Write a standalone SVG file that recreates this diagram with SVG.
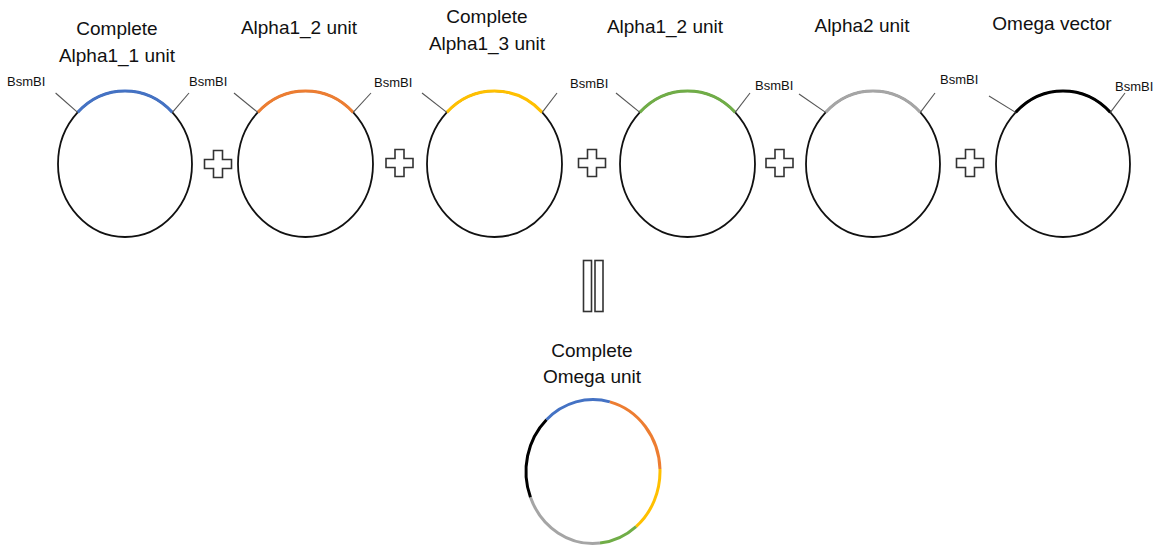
<svg xmlns="http://www.w3.org/2000/svg" width="1156" height="547" viewBox="0 0 1156 547">
  <style>
    .title { font-family: "Liberation Sans", Arial, sans-serif; font-size: 19px; fill: #111; text-anchor: middle; }
    .site { font-family: "Liberation Sans", Arial, sans-serif; font-size: 13px; fill: #111; }
    .ring { fill: none; stroke: #111; stroke-width: 1.8; }
    .tick { stroke: #555; stroke-width: 1.1; fill: none; }
    .seg { fill: none; stroke-width: 3; stroke-linecap: butt; }
    .blue { stroke: #4472C4; }
    .orange { stroke: #ED7D31; }
    .yellow { stroke: #FFC000; }
    .green { stroke: #70AD47; }
    .grey { stroke: #A5A5A5; }
    .black { stroke: #000; }
    .op { fill: #fff; stroke: #333; stroke-width: 1.6; }
  </style>
  <defs>
    <!-- outlined plus sign centred on the origin -->
    <path id="plus" d="M-4.5,-13.5 H4.5 V-4.5 H13.5 V4.5 H4.5 V13.5 H-4.5 V4.5 H-13.5 V-4.5 H-4.5 Z"/>
  </defs>

  <rect width="1156" height="547" fill="#fff"/>

  <!-- Complete Alpha1_1 unit -->
  <g id="alpha1-1">
    <text class="title" x="117" y="35">Complete</text>
    <text class="title" x="117" y="62">Alpha1_1 unit</text>
    <ellipse class="ring" cx="125" cy="164" rx="67" ry="73"/>
    <path class="seg blue" d="M77.62,112.38 A67,73 0 0 1 172.38,112.38"/>
    <line class="tick" x1="55.6" y1="93" x2="77.6" y2="112.4"/>
    <line class="tick" x1="172.4" y1="112.4" x2="189" y2="93"/>
    <text class="site" x="7" y="86">BsmBI</text>
    <text class="site" x="189" y="86">BsmBI</text>
  </g>

  <!-- Alpha1_2 unit -->
  <g id="alpha1-2a">
    <text class="title" x="299" y="34">Alpha1_2 unit</text>
    <ellipse class="ring" cx="305.5" cy="164" rx="67.5" ry="73"/>
    <path class="seg orange" d="M257.77,112.38 A67.5,73 0 0 1 353.23,112.38"/>
    <line class="tick" x1="234" y1="93" x2="257.8" y2="112.4"/>
    <line class="tick" x1="353.2" y1="112.4" x2="371" y2="93"/>
    <text class="site" x="374" y="87">BsmBI</text>
  </g>

  <!-- Complete Alpha1_3 unit -->
  <g id="alpha1-3">
    <text class="title" x="487" y="23">Complete</text>
    <text class="title" x="487" y="50">Alpha1_3 unit</text>
    <ellipse class="ring" cx="494.5" cy="164" rx="67.5" ry="73"/>
    <path class="seg yellow" d="M446.77,112.38 A67.5,73 0 0 1 542.23,112.38"/>
    <line class="tick" x1="422" y1="93" x2="446.8" y2="112.4"/>
    <line class="tick" x1="542.2" y1="112.4" x2="557" y2="93"/>
    <text class="site" x="570" y="88">BsmBI</text>
  </g>

  <!-- Alpha1_2 unit -->
  <g id="alpha1-2b">
    <text class="title" x="665" y="33">Alpha1_2 unit</text>
    <ellipse class="ring" cx="687.5" cy="164" rx="67.5" ry="73"/>
    <path class="seg green" d="M639.77,112.38 A67.5,73 0 0 1 735.23,112.38"/>
    <line class="tick" x1="616" y1="93" x2="639.8" y2="112.4"/>
    <line class="tick" x1="735.2" y1="112.4" x2="750" y2="93"/>
    <text class="site" x="755" y="90">BsmBI</text>
  </g>

  <!-- Alpha2 unit -->
  <g id="alpha2">
    <text class="title" x="862" y="32">Alpha2 unit</text>
    <ellipse class="ring" cx="873" cy="164" rx="67" ry="73"/>
    <path class="seg grey" d="M825.62,112.38 A67,73 0 0 1 920.38,112.38"/>
    <line class="tick" x1="799" y1="94" x2="825.6" y2="112.4"/>
    <line class="tick" x1="920.4" y1="112.4" x2="935" y2="93"/>
    <text class="site" x="940" y="84">BsmBI</text>
  </g>

  <!-- Omega vector -->
  <g id="omega-vector">
    <text class="title" x="1052" y="30">Omega vector</text>
    <ellipse class="ring" cx="1063" cy="164" rx="67" ry="73"/>
    <path class="seg black" d="M1015.62,112.38 A67,73 0 0 1 1110.38,112.38"/>
    <line class="tick" x1="989" y1="96" x2="1015.6" y2="112.4"/>
    <line class="tick" x1="1110.4" y1="112.4" x2="1125" y2="93"/>
    <text class="site" x="1115" y="91">BsmBI</text>
  </g>

  <!-- plus / equals operators between the parts -->
  <g id="connectors">
    <use href="#plus" class="op" x="218" y="164"/>
    <use href="#plus" class="op" x="399.5" y="163"/>
    <use href="#plus" class="op" x="592" y="163"/>
    <use href="#plus" class="op" x="779.5" y="163"/>
    <use href="#plus" class="op" x="970" y="163"/>
    <rect class="op" x="583.5" y="260.5" width="8" height="51"/>
    <rect class="op" x="595" y="260.5" width="8" height="51"/>
  </g>

  <!-- Complete Omega unit: assembled ring -->
  <g id="omega-unit">
    <text class="title" x="592" y="357">Complete</text>
    <text class="title" x="592" y="383">Omega unit</text>
    <path class="seg blue" d="M546.46,419.71 A67,72 0 0 1 609.89,401.83"/>
    <path class="seg orange" d="M609.89,401.83 A67,72 0 0 1 659.96,468.99"/>
    <path class="seg yellow" d="M659.96,468.99 A67,72 0 0 1 636.07,526.65"/>
    <path class="seg green" d="M636.07,526.65 A67,72 0 0 1 600.00,543.11"/>
    <path class="seg grey" d="M600.00,543.11 A67,72 0 0 1 530.45,497.30"/>
    <path class="seg black" d="M530.45,497.30 A67,72 0 0 1 546.46,419.71"/>
  </g>
</svg>
